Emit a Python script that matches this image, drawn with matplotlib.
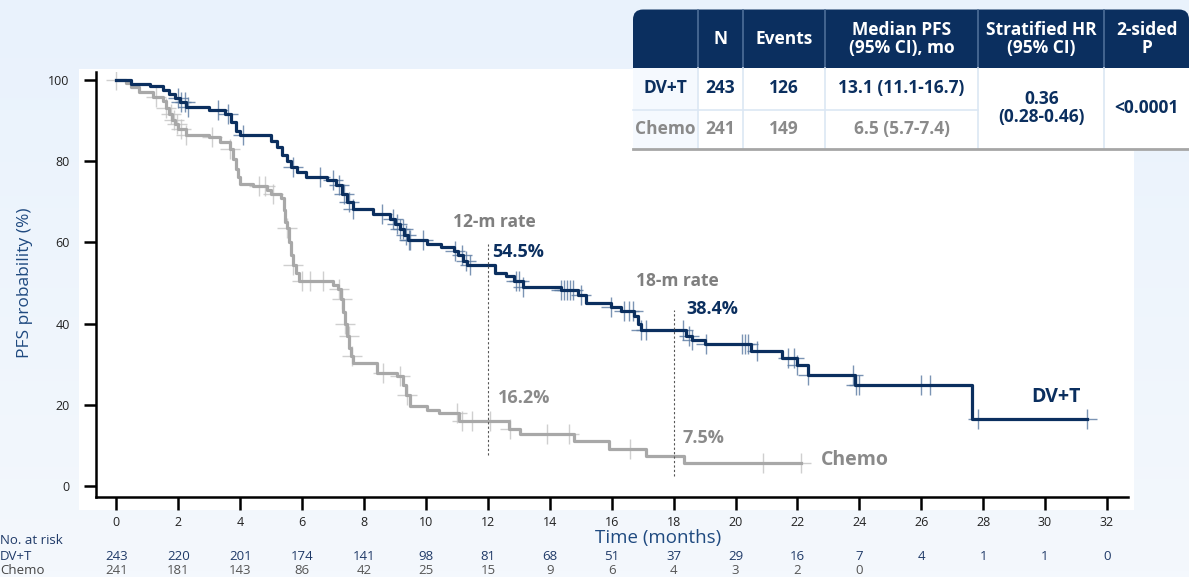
import numpy as np
import matplotlib
matplotlib.use('Agg')
import matplotlib.pyplot as plt
from matplotlib.patches import Rectangle, FancyBboxPatch
from matplotlib.transforms import blended_transform_factory

plt.rcParams['font.family'] = ['Open Sans', 'DejaVu Sans']

# Kaplan-Meier steps (months, % progression-free)
dvt_times = [0, 0.48, 1.07, 1.5, 1.7, 1.9, 2.05, 2.25, 3.0, 3.5, 3.7, 3.85, 4.0,
             5.0, 5.2, 5.35, 5.5, 5.65, 5.82, 6.14, 6.8, 7.1, 7.3, 7.45, 7.65,
             8.3, 8.84, 9.0, 9.15, 9.3, 9.43, 10.03, 10.5, 10.9, 11.05, 11.2,
             11.33, 12.24, 12.6, 12.83, 13.15, 14.35, 14.9, 15.16, 15.97, 16.3,
             16.72, 16.85, 16.94, 18.4, 18.6, 19.0, 20.5, 21.5, 22.0, 22.33,
             23.85, 27.63]
dvt_surv = [100, 99.0, 98.4, 97.5, 96.5, 95.5, 94.5, 93.3, 92.5, 91.6, 89.5, 87.5, 86.3,
            85.0, 83.5, 81.5, 80.0, 78.5, 77.3, 76.2, 75.3, 74.0, 72.0, 70.0, 68.3,
            67.0, 65.8, 64.5, 63.2, 61.8, 60.5, 59.5, 58.8, 57.8, 56.8, 55.5,
            54.5, 52.5, 51.8, 50.5, 49.1, 48.3, 47.0, 45.0, 44.2, 43.2,
            42.0, 40.0, 38.4, 37.0, 36.0, 35.0, 33.3, 31.6, 29.9, 27.3,
            24.9, 16.6]
dvt_end = 31.35

chemo_times = [0, 0.3, 0.48, 0.74, 1.17, 1.5, 1.6, 1.7, 1.8, 1.9, 2.0, 2.26, 3.0,
               3.34, 3.66, 3.75, 3.85, 3.92, 3.98, 4.4, 4.85, 5.0, 5.33, 5.4, 5.45,
               5.5, 5.58, 5.63, 5.7, 5.8, 5.9, 7.0, 7.17, 7.25, 7.32, 7.38, 7.45,
               7.52, 7.58, 7.65, 8.41, 9.06, 9.27, 9.35, 9.49, 10.03, 10.41, 11.06,
               12.68, 13.05, 14.78, 15.9, 17.1, 18.35]
chemo_surv = [100, 99.2, 98.2, 97.0, 95.8, 94.8, 93.0, 91.5, 90.0, 89.0, 88.0, 86.4, 85.8,
              84.6, 83.0, 80.5, 78.0, 76.0, 74.4, 73.8, 73.0, 72.0, 71.0, 68.0, 65.0,
              63.5, 60.0, 57.0, 54.5, 52.5, 50.5, 49.5, 48.5, 46.0, 43.0, 40.0, 37.0,
              34.0, 32.0, 30.3, 28.0, 27.2, 25.0, 22.5, 19.7, 18.7, 18.0, 16.2,
              14.2, 12.8, 11.1, 9.3, 7.4, 5.7]
chemo_end = 22.12

dvt_censor = [2.0, 2.1, 2.2, 2.3, 3.27, 3.6, 4.08, 5.7, 6.58, 7.0, 7.2, 7.35, 7.5, 7.65,
              8.57, 8.95, 9.05, 9.15, 9.25, 9.35, 9.45, 9.5, 9.92, 10.95, 11.16, 11.3,
              11.43, 12.9, 13.0, 13.15, 14.35, 14.45, 14.55, 14.65, 14.75, 15.0, 15.97,
              16.4, 16.55, 16.7, 16.94, 17.1, 18.29, 18.5, 18.6, 19.04, 20.2, 20.3, 20.4,
              20.7, 21.7, 21.9, 22.0, 22.33, 23.8, 23.9, 24.0, 26.0, 26.27, 27.84, 31.35]
chemo_censor = [0.0, 1.28, 1.6, 1.75, 1.85, 1.95, 2.1, 2.26, 3.1, 3.66, 4.6, 4.8, 5.06,
                5.5, 5.7, 5.98, 6.25, 6.68, 7.2, 7.3, 7.4, 7.5, 7.6, 8.62, 9.17, 9.38,
                11.0, 11.16, 11.49, 12.08, 12.73, 13.92, 14.62, 16.6, 20.88, 22.12]

risk_times = list(range(0, 33, 2))
risk_dvt = [243, 220, 201, 174, 141, 98, 81, 68, 51, 37, 29, 16, 7, 4, 1, 1, 0]
risk_chemo = [241, 181, 143, 86, 42, 25, 15, 9, 6, 4, 3, 2, 0]

NAVY = '#0b2f5f'
GRAY_LINE = '#a8a8a8'
GRAY_TXT = '#8a8a8a'

W, H = 1189, 577
fig = plt.figure(figsize=(W / 100, H / 100), dpi=100)

# background (soft blue gradient + white plot panel)
bg = fig.add_axes([0, 0, 1, 1], zorder=0)
bg.axis('off')
grad = np.linspace(0, 1, 100).reshape(-1, 1)
cmap = matplotlib.colors.LinearSegmentedColormap.from_list('bgc', ['#e9f2fc', '#f4f8fd'])
bg.imshow(grad, cmap=cmap, extent=[0, W, H, 0], aspect='auto')
bg.add_patch(Rectangle((79, 69), 1134 - 79, 510 - 69, facecolor='white', edgecolor='none'))
bg.set_xlim(0, W)
bg.set_ylim(H, 0)

# main KM axes
x0, x1, ytop, ybot = 96, 1128, 72, 497
ax = fig.add_axes([x0 / W, (H - ybot) / H, (x1 - x0) / W, (ybot - ytop) / H], zorder=1)
ax.patch.set_alpha(0)
ax.set_xlim(-0.66, 32.68)
ax.set_ylim(-2.6, 101.9)


def surv_at(times, surv, t):
    i = np.searchsorted(times, t, side='right') - 1
    return np.array(surv)[i]


for times, surv, end, cens, lc, cc in [
        (chemo_times, chemo_surv, chemo_end, chemo_censor, GRAY_LINE, '#c4c4c4'),
        (dvt_times, dvt_surv, dvt_end, dvt_censor, NAVY, '#5a7aa2')]:
    ax.step(times + [end], surv + [surv[-1]], where='post', color=lc, lw=2.3, zorder=3)
    ax.plot(cens, surv_at(times, surv, cens), '+', color=cc, ms=14, mew=1.0,
            alpha=0.8, zorder=2)

ax.plot([12, 12], [7.8, 59.6], color='#555555', lw=0.8, ls=(0, (2, 2)), zorder=4)
ax.plot([18, 18], [2.5, 43.5], color='#555555', lw=0.8, ls=(0, (2, 2)), zorder=4)

ax.text(10.88, 64.9, '12-m rate', color='#7f7f7f', fontsize=12.5, fontweight='bold', va='center')
ax.text(12.14, 57.7, '54.5%', color=NAVY, fontsize=13, fontweight='bold', va='center')
ax.text(16.78, 50.4, '18-m rate', color='#7f7f7f', fontsize=12.5, fontweight='bold', va='center')
ax.text(18.4, 43.6, '38.4%', color=NAVY, fontsize=13, fontweight='bold', va='center')
ax.text(12.34, 21.8, '16.2%', color=GRAY_TXT, fontsize=13, fontweight='bold', va='center')
ax.text(18.29, 12.0, '7.5%', color=GRAY_TXT, fontsize=13, fontweight='bold', va='center')
ax.text(29.57, 21.9, 'DV+T', color=NAVY, fontsize=14, fontweight='bold', va='center')
ax.text(22.77, 6.4, 'Chemo', color=GRAY_TXT, fontsize=14, fontweight='bold', va='center')

ax.set_xticks(range(0, 33, 2))
ax.set_yticks(range(0, 101, 20))
ax.spines['top'].set_visible(False)
ax.spines['right'].set_visible(False)
for s in ('left', 'bottom'):
    ax.spines[s].set_linewidth(1.8)
ax.tick_params(axis='both', direction='out', length=9, width=1.8, labelsize=9,
               colors='black', labelcolor='#222222')
ax.tick_params(axis='x', pad=5)
ax.tick_params(axis='y', pad=10)

# overlay in pixel coordinates for table, labels, at-risk rows
ov = fig.add_axes([0, 0, 1, 1], zorder=5)
ov.patch.set_alpha(0)
ov.set_xlim(0, W)
ov.set_ylim(H, 0)
ov.axis('off')

ov.text(25, 283, 'PFS probability (%)', rotation=90, color='#1f4a80', fontsize=12.5,
        ha='center', va='center')
ov.text(658, 538, 'Time (months)', color='#1f4a80', fontsize=13.5, ha='center', va='center')

ov.text(0, 541, 'No. at risk', color='#1f3a68', fontsize=9.5, va='center')
ov.text(0, 556, 'DV+T', color='#1f3a68', fontsize=9.5, va='center')
ov.text(0, 570, 'Chemo', color='#444444', fontsize=9.5, va='center')
tr = blended_transform_factory(ax.transData, ov.transData)
for t, n in zip(risk_times, risk_dvt):
    ov.text(t, 557, str(n), transform=tr, color='#1f3a68', fontsize=9.5, ha='center', va='center')
for t, n in zip(risk_times, risk_chemo):
    ov.text(t, 571, str(n), transform=tr, color='#555555', fontsize=9.5, ha='center', va='center')

# summary table
cols = [633, 697.7, 743.3, 825, 978.3, 1104.3, 1189]
t_top, h_bot, r1_bot, r2_bot = 9.5, 68, 109.5, 149
ov.add_patch(FancyBboxPatch((cols[0], t_top), cols[-1] - cols[0], h_bot - t_top,
                            boxstyle='round,pad=0,rounding_size=10',
                            facecolor=NAVY, edgecolor='none'))
ov.add_patch(Rectangle((cols[0], 30), cols[-1] - cols[0], h_bot - 30,
                       facecolor=NAVY, edgecolor='none'))
ov.add_patch(Rectangle((cols[0], h_bot), cols[-1] - cols[0], r2_bot - h_bot,
                       facecolor='white', edgecolor='none'))
ov.add_patch(Rectangle((cols[0], h_bot), cols[1] - cols[0], r2_bot - h_bot,
                       facecolor='#f5f9fe', edgecolor='none'))
for cx in cols[1:-1]:
    ov.plot([cx, cx], [t_top, h_bot], color='#4e6e98', lw=1.2)
    ov.plot([cx, cx], [h_bot, r2_bot], color='#dce7f4', lw=1.2)
ov.plot([cols[0], cols[4]], [r1_bot, r1_bot], color='#dce7f4', lw=1.2)
ov.plot([cols[0], cols[-1]], [r2_bot, r2_bot], color='#a6a6a6', lw=2)

centers = [(a + b) / 2 for a, b in zip(cols[:-1], cols[1:])]
headers = ['', 'N', 'Events', 'Median PFS\n(95% CI), mo', 'Stratified HR\n(95% CI)', '2-sided\nP']
for cx, txt in zip(centers, headers):
    ov.text(cx, 39, txt, color='white', fontsize=12.5, fontweight='bold',
            ha='center', va='center', linespacing=1.05)
row1 = ['DV+T', '243', '126', '13.1 (11.1-16.7)']
row2 = ['Chemo', '241', '149', '6.5 (5.7-7.4)']
for cx, a, b in zip(centers, row1, row2):
    ov.text(cx, 88, a, color=NAVY, fontsize=12.5, fontweight='bold', ha='center', va='center')
    ov.text(cx, 129, b, color=GRAY_TXT, fontsize=12.5, fontweight='bold', ha='center', va='center')
ov.text(centers[4], 108, '0.36\n(0.28-0.46)', color=NAVY, fontsize=12.5, fontweight='bold',
        ha='center', va='center', linespacing=1.05)
ov.text(centers[5], 108, '<0.0001', color=NAVY, fontsize=12.5, fontweight='bold',
        ha='center', va='center')

fig.savefig('out.png', dpi=100)
